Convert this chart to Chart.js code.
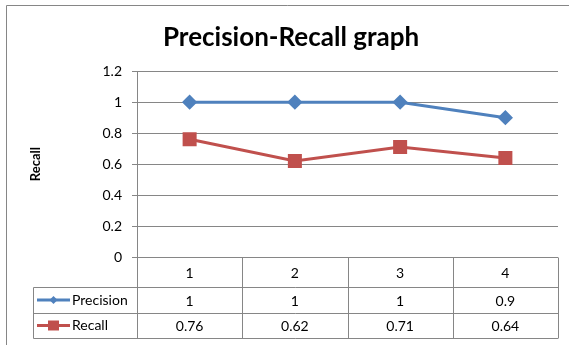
<!DOCTYPE html>
<html>
<head>
<meta charset="utf-8">
<script src="https://cdn.jsdelivr.net/npm/chart.js@4/dist/chart.umd.min.js"></script>
<style>
  html, body { margin: 0; padding: 0; background: #fff; }
  #wrap { width: 569px; height: 345px; }
</style>
</head>
<body>
<div id="wrap"><canvas id="chart" width="569" height="345"></canvas></div>
<script>
var categories = ['1', '2', '3', '4'];
var precision = [1, 1, 1, 0.9];
var recall = [0.76, 0.62, 0.71, 0.64];
var precisionText = ['1', '1', '1', '0.9'];
var recallText = ['0.76', '0.62', '0.71', '0.64'];
var yTickLabels = ['0', '0.2', '0.4', '0.6', '0.8', '1', '1.2'];

var gridColor = '#868686';
var blue = '#4F81BD';
var red = '#C0504D';
var font = 'Lato, "Open Sans", sans-serif';

// white background + the grey frame of the chart object
var framePlugin = {
  id: 'frame',
  beforeDraw: function(chart) {
    var ctx = chart.ctx;
    ctx.save();
    ctx.fillStyle = '#fff';
    ctx.fillRect(0, 0, chart.width, chart.height);
    ctx.strokeStyle = gridColor;
    ctx.lineWidth = 1;
    ctx.beginPath();
    ctx.moveTo(6.5, chart.height);
    ctx.lineTo(6.5, 5.5);
    ctx.lineTo(chart.width, 5.5);
    ctx.stroke();
    ctx.restore();
  }
};

// the data table under the plot
var tablePlugin = {
  id: 'dataTable',
  afterDraw: function(chart) {
    var ctx = chart.ctx;
    var x = chart.scales.x;
    var area = chart.chartArea;
    var colW = (area.right - area.left) / categories.length;
    var legendLeft = 33.5;
    var rowTop = area.bottom;
    var r1 = rowTop + 30;
    var r2 = r1 + 26;
    var r3 = r2 + 25;

    ctx.save();
    ctx.strokeStyle = gridColor;
    ctx.lineWidth = 1;
    ctx.beginPath();
    // horizontal lines
    ctx.moveTo(Math.round(area.left) + 0.5, Math.round(rowTop) + 0.5);
    ctx.lineTo(area.right, Math.round(rowTop) + 0.5);
    ctx.moveTo(legendLeft, Math.round(r1) + 0.5);
    ctx.lineTo(area.right, Math.round(r1) + 0.5);
    ctx.moveTo(legendLeft, Math.round(r2) + 0.5);
    ctx.lineTo(area.right, Math.round(r2) + 0.5);
    ctx.moveTo(legendLeft, Math.round(r3) + 0.5);
    ctx.lineTo(area.right, Math.round(r3) + 0.5);
    // vertical lines
    ctx.moveTo(legendLeft, Math.round(r1) + 0.5);
    ctx.lineTo(legendLeft, Math.round(r3) + 0.5);
    for (var i = 0; i <= categories.length; i++) {
      var vx = Math.round(area.left + i * colW) + 0.5;
      ctx.moveTo(vx, Math.round(rowTop) + 0.5);
      ctx.lineTo(vx, Math.round(r3) + 0.5);
    }
    ctx.stroke();

    ctx.fillStyle = '#000';
    ctx.font = '14px ' + font;
    ctx.textAlign = 'center';
    ctx.textBaseline = 'middle';
    for (var j = 0; j < categories.length; j++) {
      var cx = x.getPixelForValue(j);
      ctx.fillText(categories[j], cx, (rowTop + r1) / 2 + 1);
      ctx.fillText(precisionText[j], cx, (r1 + r2) / 2 + 1);
      ctx.fillText(recallText[j], cx, (r2 + r3) / 2 + 1);
    }

    // legend keys
    var rows = [
      { label: chart.data.datasets[0].label, color: blue, y: (r1 + r2) / 2, diamond: true },
      { label: chart.data.datasets[1].label, color: red, y: (r2 + r3) / 2, diamond: false }
    ];
    rows.forEach(function(row) {
      ctx.strokeStyle = row.color;
      ctx.lineWidth = 3;
      ctx.beginPath();
      ctx.moveTo(37, row.y);
      ctx.lineTo(70, row.y);
      ctx.stroke();
      ctx.fillStyle = row.color;
      ctx.beginPath();
      if (row.diamond) {
        ctx.moveTo(53.5, row.y - 4);
        ctx.lineTo(57.5, row.y);
        ctx.lineTo(53.5, row.y + 4);
        ctx.lineTo(49.5, row.y);
        ctx.closePath();
      } else {
        ctx.rect(48, row.y - 5, 11, 10);
      }
      ctx.fill();
      ctx.fillStyle = '#000';
      ctx.textAlign = 'left';
      ctx.fillText(row.label, 72, row.y);
    });
    ctx.restore();
  }
};

new Chart(document.getElementById('chart'), {
  type: 'line',
  data: {
    labels: categories,
    datasets: [
      {
        label: 'Precision',
        data: precision,
        borderColor: blue,
        backgroundColor: blue,
        borderWidth: 3,
        pointStyle: 'rectRot',
        pointRadius: 5.5,
        pointHoverRadius: 5.5,
        tension: 0
      },
      {
        label: 'Recall',
        data: recall,
        borderColor: red,
        backgroundColor: red,
        borderWidth: 3,
        pointStyle: 'rect',
        pointRadius: 7.8,
        pointHoverRadius: 7.8,
        tension: 0
      }
    ]
  },
  options: {
    responsive: false,
    animation: false,
    layout: { padding: { left: 24, right: 11, top: 0, bottom: 0 } },
    plugins: {
      legend: { display: false },
      tooltip: { enabled: false },
      title: {
        display: true,
        text: 'Precision-Recall graph',
        color: '#000',
        font: { family: font, size: 26, weight: 'bold' },
        padding: { top: 22, bottom: 18 }
      }
    },
    scales: {
      x: {
        offset: true,
        grid: { display: false },
        border: { display: false },
        ticks: { display: false },
        afterFit: function(scale) { scale.height = 88; }
      },
      y: {
        min: 0,
        max: 1.2,
        ticks: {
          stepSize: 0.2,
          color: '#000',
          padding: 10,
          font: { family: font, size: 14 },
          callback: function(value, index) { return yTickLabels[index]; }
        },
        grid: { color: gridColor, tickLength: 5, drawTicks: true },
        border: { color: gridColor },
        title: {
          display: true,
          text: 'Recall',
          color: '#000',
          font: { family: font, size: 13, weight: 'bold' },
          padding: 4
        },
        afterFit: function(scale) { scale.width = 113; }
      }
    }
  },
  plugins: [framePlugin, tablePlugin]
});
</script>
</body>
</html>
